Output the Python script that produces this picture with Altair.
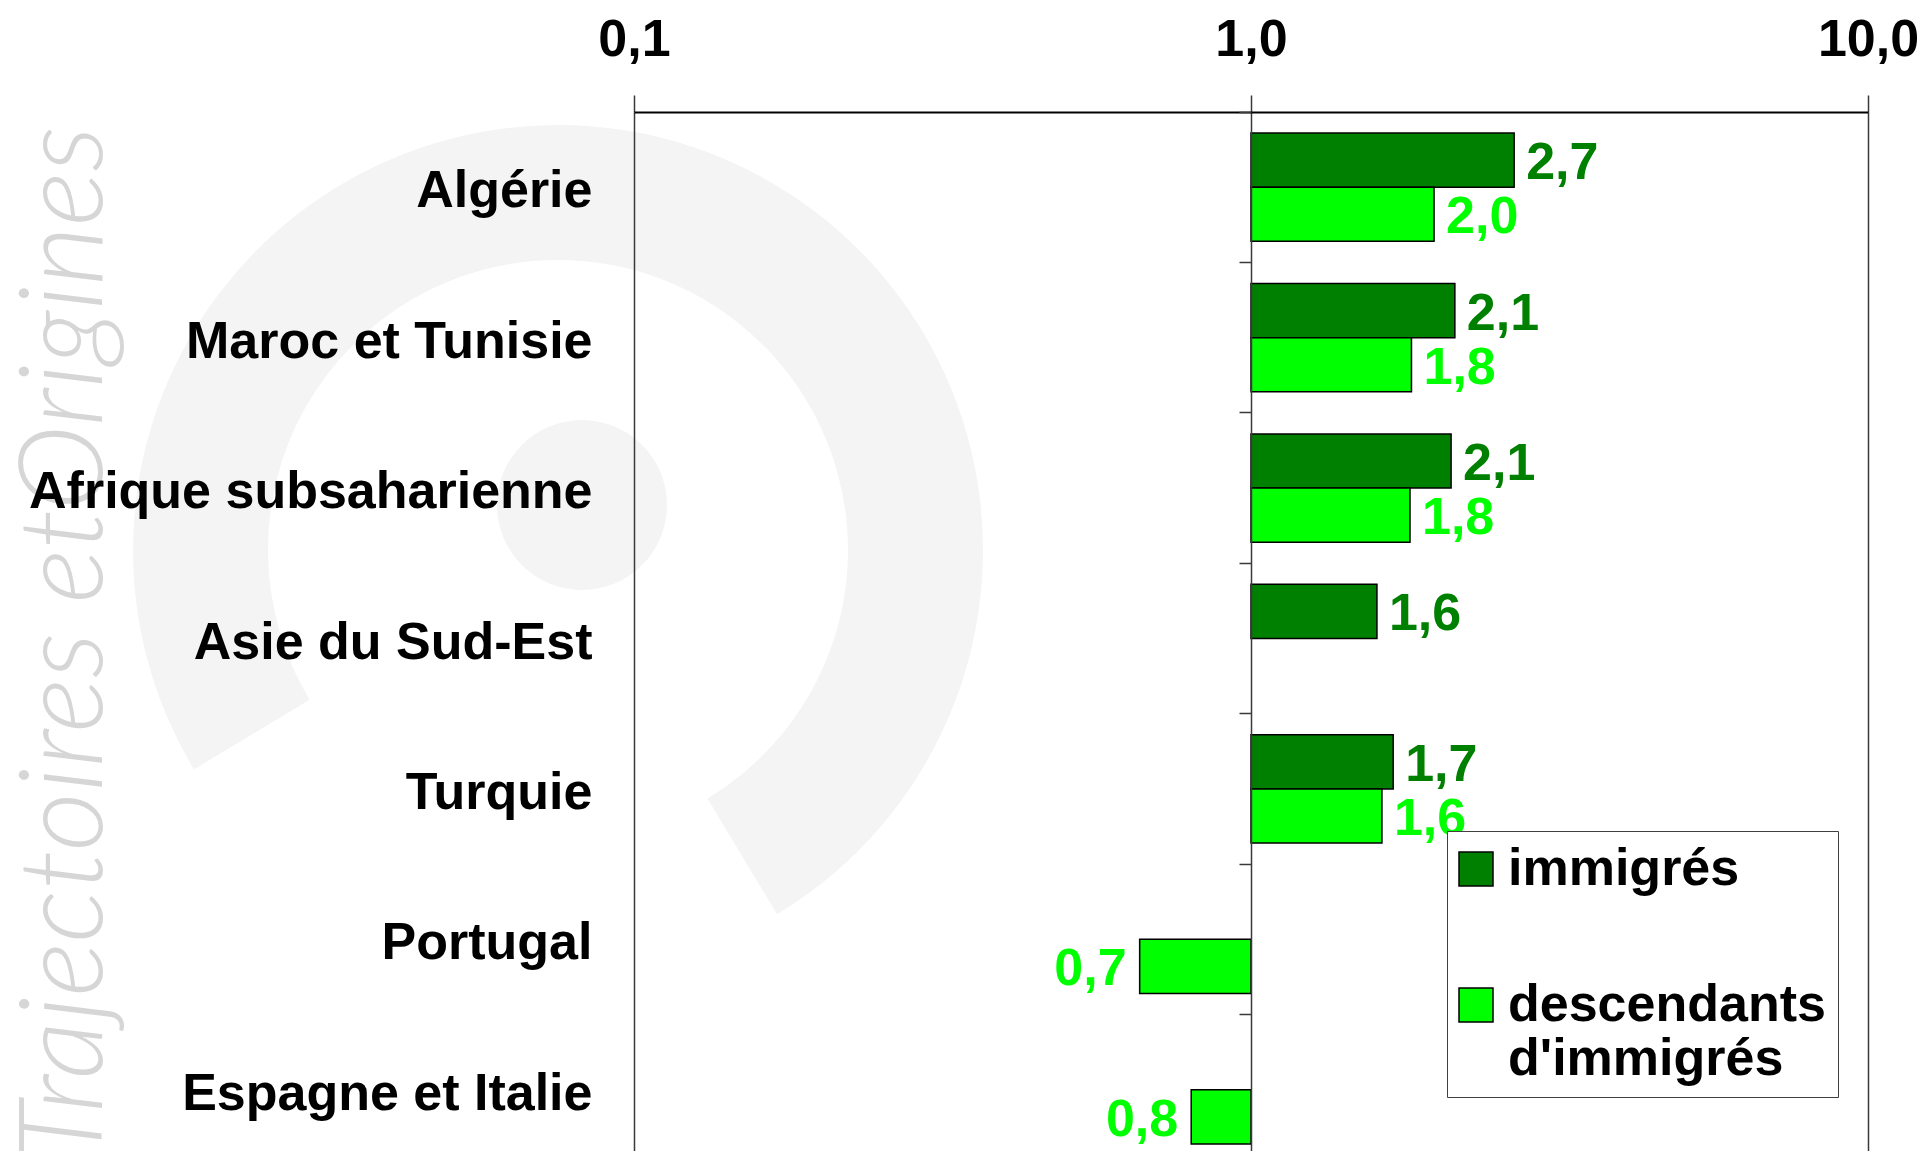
import altair as alt
import pandas as pd

categories = ["Algérie", "Maroc et Tunisie", "Afrique subsaharienne",
              "Asie du Sud-Est", "Turquie", "Portugal", "Espagne et Italie"]
groups = ["immigrés", "descendants d'immigrés"]
imm_values = [2.67, 2.14, 2.11, 1.60, 1.70, None, None]
imm_labels = ["2,7", "2,1", "2,1", "1,6", "1,7", None, None]
desc_values = [1.98, 1.82, 1.81, None, 1.63, 0.66, 0.80]
desc_labels = ["2,0", "1,8", "1,8", None, "1,6", "0,7", "0,8"]
x_ticks = [0.1, 1.0, 10.0]
colors = ["#008000", "#00FF00"]
watermark = "Trajectoires etOrigines"

rows = []
for g, vals, labs in [(groups[0], imm_values, imm_labels), (groups[1], desc_values, desc_labels)]:
    for c, v, l in zip(categories, vals, labs):
        if v is not None:
            rows.append({"pays": c, "groupe": g, "valeur": v, "etiquette": l})
df = pd.DataFrame(rows)

FONT = "Liberation Sans"
PLOT_W = 1234
PLOT_H = 1053

y_scale = alt.Scale(domain=categories, paddingInner=0.28, paddingOuter=0.14)
x_scale = alt.Scale(type="log", domain=[0.1, 10])
color_scale = alt.Scale(domain=groups, range=colors)
yoff = alt.YOffset("groupe:N", scale=alt.Scale(domain=groups))

x_axis = alt.Axis(orient="top", values=x_ticks,
                  labelExpr="replace(format(datum.value, '.1f'), '.', ',')",
                  title=None, grid=True, gridColor="#3a3a3a", gridWidth=1.5,
                  tickSize=17, tickColor="#3a3a3a", tickWidth=1.5,
                  domainColor="black", domainWidth=2,
                  labelFont=FONT, labelFontSize=52, labelFontWeight="bold",
                  labelColor="black", labelPadding=29, labelFlush=False,
                  labelOverlap=False, zindex=1)
x_enc = alt.X("valeur:Q", scale=x_scale, axis=x_axis)

bars = alt.Chart(df).mark_bar(stroke="black", strokeWidth=1.5).encode(
    x=x_enc,
    x2=alt.datum(1),
    y=alt.Y("pays:N", scale=y_scale, sort=categories,
            axis=alt.Axis(orient="left", title=None, domain=False, ticks=False, grid=False,
                          labelFont=FONT, labelFontSize=52, labelFontWeight="bold",
                          labelColor="black", labelPadding=42, labelLimit=0,
                          labelOffset=4, zindex=1)),
    yOffset=yoff,
    color=alt.Color("groupe:N", scale=color_scale,
                    legend=alt.Legend(orient="none", legendX=813, legendY=719, title=None,
                                      symbolType="square", symbolSize=1156,
                                      symbolStrokeColor="black", symbolStrokeWidth=1.5,
                                      symbolOffset=-9,
                                      labelFont=FONT, labelFontSize=52, labelFontWeight="bold",
                                      labelColor="black", labelLimit=0, labelOffset=6,
                                      labelExpr="split(datum.label, ' ')",
                                      padding=12, rowPadding=84,
                                      strokeColor="#404040", fillColor="white")),
)

lab_right = alt.Chart(df).transform_filter("datum.valeur >= 1").mark_text(
    align="left", baseline="middle", dx=12, dy=3, font=FONT, fontSize=52, fontWeight="bold"
).encode(
    x=x_enc,
    y=alt.Y("pays:N", scale=y_scale, sort=categories,
            axis=alt.Axis(orient="left", offset=-617, labels=False, domain=False, grid=False,
                          ticks=True, tickSize=12, tickColor="#3a3a3a", tickWidth=1.5,
                          bandPosition=-0.194, title=None, zindex=1)),
    yOffset=yoff,
    text=alt.Text("etiquette:N"),
    color=alt.Color("groupe:N", scale=color_scale, legend=None),
)

lab_left = alt.Chart(df).transform_filter("datum.valeur < 1").mark_text(
    align="right", baseline="middle", dx=-13, dy=3, font=FONT, fontSize=52, fontWeight="bold"
).encode(
    x=x_enc,
    y=alt.Y("pays:N", scale=y_scale, sort=categories, axis=None),
    yOffset=yoff,
    text=alt.Text("etiquette:N"),
    color=alt.Color("groupe:N", scale=color_scale, legend=None),
)

decor = pd.DataFrame({"k": [0]})
ring_a = alt.Chart(decor).mark_arc(x=-76, y=438, radius=425, radius2=290,
                                   theta=0, theta2=2.6).encode(color=alt.value("#f4f4f4"))
ring_b = alt.Chart(decor).mark_arc(x=-76, y=438, radius=425, radius2=290,
                                   theta=4.17, theta2=6.2832).encode(color=alt.value("#f4f4f4"))
dot = alt.Chart(decor).mark_arc(x=-52, y=393, radius=85,
                                theta=0, theta2=6.2832).encode(color=alt.value("#f4f4f4"))
wm = alt.Chart(decor).mark_text(text=watermark, angle=270, align="right", baseline="alphabetic",
                                x=-532, y=14, fontSize=116, font="Lato", fontWeight=300,
                                fontStyle="italic").encode(color=alt.value("#d6d6d6"))

chart = alt.layer(ring_a, ring_b, dot, wm, bars, lab_right, lab_left).resolve_axis(
    y="independent"
).properties(
    width=PLOT_W, height=PLOT_H,
    autosize=alt.AutoSizeParams(type="none"),
    padding={"left": 626, "top": 104, "right": 50, "bottom": -14},
).configure_view(stroke=None)

chart.save("out.html", embed_options={"renderer": "svg", "actions": False})
